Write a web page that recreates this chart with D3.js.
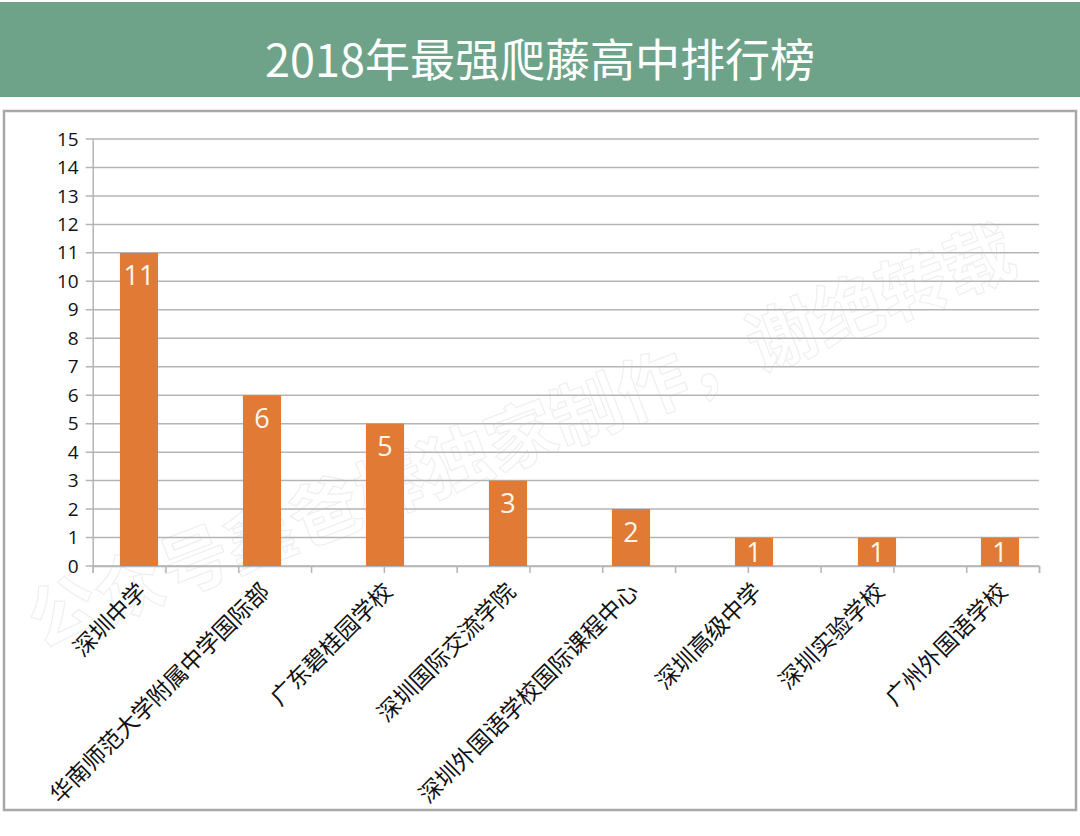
<!DOCTYPE html>
<html>
<head>
<meta charset="utf-8">
<script src="https://cdn.jsdelivr.net/npm/d3@7"></script>
<style>
  body { margin: 0; background: #fff; }
  svg { display: block; }
</style>
</head>
<body>
<div id="chart"></div>
<script>
'use strict';

const schools = ['深圳中学', '华南师范大学附属中学国际部', '广东碧桂园学校', '深圳国际交流学院',
    '深圳外国语学校国际课程中心', '深圳高级中学', '深圳实验学校', '广州外国语学校'];
const counts = [11, 6, 5, 3, 2, 1, 1, 1];
const yTicks = d3.range(0, 16);
const title = '2018年最强爬藤高中排行榜';
const watermark = '公众号鑫爸棒独家制作，谢绝转载';

const settings = {
    width: 1080,
    height: 836,
    elId: '#chart',
};

const plot = { left: 92.7, right: 1039, top: 139, bottom: 566 };

const svg = d3.select(settings.elId)
    .append('svg')
    .attr('width', settings.width)
    .attr('height', settings.height);

// Title band
svg.append('rect')
    .attr('x', 0).attr('y', 2)
    .attr('width', settings.width).attr('height', 95)
    .attr('fill', '#6ea38a');
svg.append('text')
    .text(title)
    .attr('x', settings.width / 2)
    .attr('y', 57)
    .attr('text-anchor', 'middle')
    .attr('dominant-baseline', 'central')
    .attr('font-family', '"Noto Sans CJK SC", sans-serif')
    .attr('font-size', 45)
    .attr('fill', '#fff');

// Panel
svg.append('rect')
    .attr('x', 4).attr('y', 111)
    .attr('width', 1072).attr('height', 699)
    .attr('fill', '#fff')
    .attr('stroke', '#a8a8a8')
    .attr('stroke-width', 2.5);

// Scales
const x = d3.scaleBand()
    .domain(schools)
    .range([77.5, 1061.5])
    .paddingInner(0.69)
    .paddingOuter(0.345);

const y = d3.scaleLinear()
    .domain([0, 15])
    .range([plot.bottom, plot.top]);

// tick marks along the category axis
const xTick = d3.scaleLinear()
    .domain([0, 13])
    .range([plot.left, plot.right]);

// Watermark
svg.append('text')
    .text(watermark)
    .attr('transform', 'translate(40,648) rotate(-21)')
    .attr('font-family', '"Noto Sans CJK SC", sans-serif')
    .attr('font-weight', 'bold')
    .attr('font-size', 70)
    .attr('fill', 'none')
    .attr('stroke', '#efefef')
    .attr('stroke-width', 1.2);

// Gridlines
svg.append('g')
    .attr('id', 'grid')
    .selectAll('line')
    .data(yTicks)
    .enter()
    .append('line')
    .attr('x1', plot.left - 7)
    .attr('x2', plot.right)
    .attr('y1', d => y(d))
    .attr('y2', d => y(d))
    .attr('stroke', '#b5b5b5')
    .attr('stroke-width', 1.5);

// Y axis
const yAxis = svg.append('g')
    .attr('transform', `translate(${plot.left},0)`)
    .call(d3.axisLeft(y).tickValues(yTicks).tickSize(0).tickPadding(14));
yAxis.select('.domain').attr('stroke', '#b5b5b5').attr('stroke-width', 1.5);
yAxis.selectAll('text')
    .attr('font-family', '"Open Sans", sans-serif')
    .attr('font-size', 19)
    .attr('fill', '#111');

// X axis line + ticks
const xAxis = svg.append('g')
    .attr('transform', `translate(0,${plot.bottom})`)
    .call(d3.axisBottom(xTick).ticks(13).tickSize(7).tickFormat(''));
xAxis.select('.domain').attr('stroke', '#b5b5b5').attr('stroke-width', 1.5);
xAxis.selectAll('.tick line').attr('stroke', '#b5b5b5').attr('stroke-width', 1.5);

// Bars
const bars = svg.append('g').attr('id', 'bars');
bars.selectAll('rect')
    .data(counts)
    .enter()
    .append('rect')
    .attr('x', (d, i) => x(schools[i]))
    .attr('y', d => y(d))
    .attr('width', x.bandwidth())
    .attr('height', d => y(0) - y(d))
    .attr('fill', '#e07a35');

// Value labels
bars.selectAll('text')
    .data(counts)
    .enter()
    .append('text')
    .text(d => d)
    .attr('x', (d, i) => x(schools[i]) + x.bandwidth() / 2)
    .attr('y', d => Math.min(y(d) + 22, (y(d) + y(0)) / 2))
    .attr('text-anchor', 'middle')
    .attr('dominant-baseline', 'central')
    .attr('font-family', '"Open Sans", sans-serif')
    .attr('font-size', 27)
    .attr('fill', '#fdf6ea');

// Category labels
svg.append('g')
    .attr('id', 'labels')
    .selectAll('text')
    .data(schools)
    .enter()
    .append('text')
    .text(d => d)
    .attr('transform', d => `translate(${x(d) + x.bandwidth() / 2 + 2},${plot.bottom + 20}) rotate(-45)`)
    .attr('text-anchor', 'end')
    .attr('dominant-baseline', 'central')
    .attr('font-family', '"Noto Sans CJK SC", sans-serif')
    .attr('font-size', 23)
    .attr('fill', '#111');
</script>
</body>
</html>
